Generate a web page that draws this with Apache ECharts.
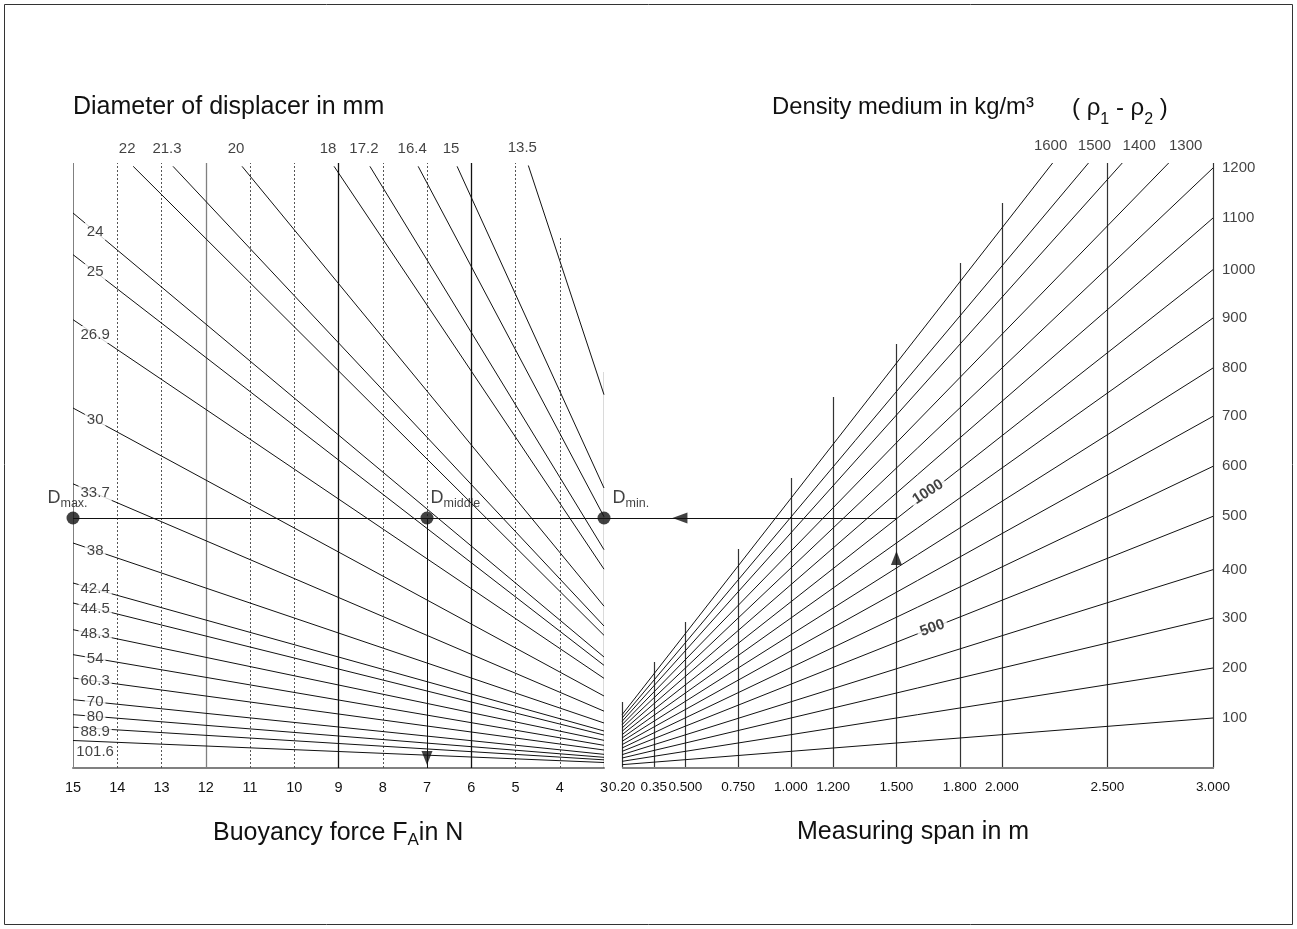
<!DOCTYPE html>
<html><head><meta charset="utf-8">
<script src="https://cdn.jsdelivr.net/npm/echarts@6/dist/echarts.min.js"></script>
<style>html,body{margin:0;padding:0;background:#fff}#c{width:1297px;height:929px}</style>
</head><body><div id="c"></div>
<script>
// ================= DATA =================
// Left panel: buoyancy force F_A [N] on x, (rho1-rho2)*span [kg/m^2] on y
const forceTicks     = [15, 14, 13, 12, 11, 10, 9, 8, 7, 6, 5, 4, 3];
const forceSolid     = [15, 12, 9, 6, 3];
const forceGridTopP  = [3640, 3630, 3630, 3630, 3630, 3630, 3630, 3630, 3630, 3630, 3630, 3186, 2376];

// diameter lines that start at the top edge
const topDiameters = ['22', '21.3', '20', '18', '17.2', '16.4', '15', '13.5'];
const topStartF    = [13.64, 12.74, 11.18, 9.10, 8.29, 7.20, 6.32, 4.71];
const topStartP    = [3610, 3610, 3610, 3610, 3610, 3610, 3610, 3615];
const topEndP      = [796, 852, 971, 1193, 1310, 1508, 1680, 2240];   // at F = 3 N

// diameter lines that start on the 15 N edge
const sideDiameters = ['24', '25', '26.9', '30', '33.7', '38', '42.4', '44.5', '48.3', '54', '60.3', '70', '80', '88.9', '101.6'];
const sideStartP    = [3330, 3080, 2690, 2160, 1705, 1350, 1110, 990, 830, 680, 540, 410, 320, 245, 165]; // at F = 15 N
const sideEndP      = [666, 616, 538, 432, 341, 270, 222, 198, 166, 136, 108, 82, 64, 49, 33];           // at F = 3 N

// Right panel: measuring span [m] on x
const spanTicks      = [0.2, 0.35, 0.5, 0.75, 1.0, 1.2, 1.5, 1.8, 2.0, 2.5, 3.0];
const spanTickLabels = ['0.20', '0.35', '0.500', '0.750', '1.000', '1.200', '1.500', '1.800', '2.000', '2.500', '3.000'];
const spanGridTopP   = [396, 636, 876, 1314, 1740, 2226, 2544, 3030, 3390, 3630, 3630];

const densities      = [100, 200, 300, 400, 500, 600, 700, 800, 900, 1000, 1100, 1200, 1300, 1400, 1500, 1600];
const densityStartL  = 0.2;
const densityStartP  = [20, 40, 60, 80, 100, 120, 140, 160, 180, 200, 220, 240, 260, 280, 300, 320];
const densityEndL    = [3, 3, 3, 3, 3, 3, 3, 3, 3, 3, 3, 3, 2.79, 2.57, 2.41, 2.24];
const densityEndP    = [300, 600, 900, 1190, 1510, 1810, 2110, 2400, 2700, 2990, 3300, 3600, 3630, 3630, 3630, 3630];

// worked example: 1000 kg/m^3 x 1.5 m
const exampleP      = 1500;
const exampleSpan   = 1.5;
const exampleStartL = 0.1;
const dPoints       = [['max.', 15], ['middle', 7], ['min.', 3]];
const arrowLeft     = [0.474, 1500];
const arrowUp       = [1.5, 1260];
const arrowDown     = [7, 60];
const lineNumbers   = [['1000', 1.65, 1656], ['500', 1.67, 840]];

const yMax = 3630;

// ================= LAYOUT / STYLE =================
const FONT = 'Liberation Sans, Arial, Helvetica, sans-serif';
const INK = '#111';
const topLabelDx = [17, 17, 6, -2];   // label x shifts for 1300..1600
const sideLabelDy = [0, 0, 0, 0, 0, 0, 0, 0, 0, 0, 0, 0, 0, 3, 10];
const dLabelPos = [[-19, -25], [10, -25], [15, -25]];

// ================= BUILD =================
const chart = echarts.init(document.getElementById('c'), null, {renderer: 'canvas'});

const forceGrid = forceTicks.map((f, i) => {
  const solid = forceSolid.includes(f);
  const gray = (f === 15 || f === 12);
  return {
    coords: [[f, 0], [f, forceGridTopP[i]]],
    lineStyle: solid
      ? {color: gray ? '#808080' : '#111', width: f === 15 ? 2 : 1.3, type: 'solid', opacity: 1}
      : {color: '#555', width: 1, type: [2, 2], opacity: 1}
  };
});

const leftLines = [];
topDiameters.forEach((d, i) => leftLines.push({coords: [[topStartF[i], topStartP[i]], [3, topEndP[i]]]}));
sideDiameters.forEach((d, i) => leftLines.push({coords: [[15, sideStartP[i]], [3, sideEndP[i]]]}));

const topLabelData = topDiameters.map((d, i) => ({value: [topStartF[i], topStartP[i]], name: d}));
const sideLabelData = sideDiameters.map((d, i) => {
  const f = 14.5;
  const p = sideStartP[i] + (sideEndP[i] - sideStartP[i]) * (15 - f) / 12;
  return {value: [f, p], name: d, label: {offset: [0, sideLabelDy[i]]}};
});

const spanGrid = spanTicks.map((s, i) => ({coords: [[s, 0], [s, spanGridTopP[i]]]}));
const densityLines = densities.map((r, i) => ({coords: [[densityStartL, densityStartP[i]], [densityEndL[i], densityEndP[i]]]}));
const rightLabelData = [];
const topDensityData = [];
densities.forEach((r, i) => {
  if (densityEndL[i] === 3) {
    rightLabelData.push({value: [densityEndL[i], densityEndP[i]], name: String(r)});
  } else {
    topDensityData.push({value: [densityEndL[i], densityEndP[i]], name: String(r),
                         label: {offset: [topLabelDx[topDensityData.length], 0]}});
  }
});

const plain = (size, extra) => Object.assign({fontSize: size, fontWeight: 'normal', fontFamily: FONT, color: INK}, extra || {});
const lineStyleBlack = {color: '#111', width: 1, opacity: 1};

const option = {
  animation: false,
  backgroundColor: '#fff',
  textStyle: {fontFamily: FONT},
  title: [
    {text: 'Diameter of displacer in mm', left: 73, top: 95, padding: 0, textStyle: plain(25)},
    {text: 'Density medium in kg/m³', left: 772, top: 95, padding: 0, textStyle: plain(23.8)},
    {text: '{m|( }{m|ρ}{s|1}{m| - }{m|ρ}{s|2}{m| )}', left: 1072, top: 88, padding: 0,
     textStyle: {fontWeight: 'normal', rich: {
       m: plain(24, {lineHeight: 40}),
       s: plain(16, {lineHeight: 16, verticalAlign: 'bottom'})
     }}},
    {text: '{m|Buoyancy force F}{s|A}{m|in N}', left: 213, top: 817, padding: 0,
     textStyle: {fontWeight: 'normal', rich: {
       m: plain(25, {lineHeight: 32}),
       s: plain(17, {lineHeight: 17, verticalAlign: 'bottom'})
     }}},
    {text: 'Measuring span in m', left: 797, top: 820, padding: 0, textStyle: plain(25)}
  ],
  grid: [
    {left: 73, width: 531, top: 163, height: 605},
    {left: 601, width: 612, top: 163, height: 605}
  ],
  xAxis: [
    {gridIndex: 0, type: 'value', min: 3, max: 15, interval: 1, inverse: true,
     splitLine: {show: false}, axisTick: {show: false},
     axisLine: {show: true, lineStyle: {color: '#808080', width: 2}},
     axisLabel: plain(14.5, {margin: 12})},
    {gridIndex: 1, type: 'value', min: 0.1, max: 3.0,
     splitLine: {show: false}, axisTick: {show: false}, axisLine: {show: false},
     axisLabel: plain(13.5, {margin: 12,
       customValues: spanTicks,
       formatter: v => {
         let best = 0;
         spanTicks.forEach((s, i) => { if (Math.abs(s - v) < Math.abs(spanTicks[best] - v)) best = i; });
         return Math.abs(spanTicks[best] - v) < 1e-6 ? spanTickLabels[best] : '';
       }})}
  ],
  yAxis: [
    {gridIndex: 0, type: 'value', min: 0, max: yMax, show: false},
    {gridIndex: 1, type: 'value', min: 0, max: yMax, show: false}
  ],
  graphic: [
    {type: 'rect', shape: {x: 4.5, y: 4.5, width: 1288, height: 920}, silent: true,
     style: {fill: 'none', stroke: '#333', lineWidth: 1}, z: 100}
  ],
  series: [
    {type: 'lines', coordinateSystem: 'cartesian2d', xAxisIndex: 0, yAxisIndex: 0, silent: true,
     data: forceGrid, z: 1},
    {type: 'lines', coordinateSystem: 'cartesian2d', xAxisIndex: 0, yAxisIndex: 0, silent: true,
     lineStyle: lineStyleBlack, data: leftLines, z: 2},
    {type: 'scatter', xAxisIndex: 0, yAxisIndex: 0, symbolSize: 0, silent: true, z: 5,
     data: topLabelData,
     label: plain(15, {show: true, position: 'top', distance: 10, offset: [-6, 0], formatter: p => p.name})},
    {type: 'scatter', xAxisIndex: 0, yAxisIndex: 0, symbolSize: 0, silent: true, z: 5,
     data: sideLabelData,
     label: plain(15, {show: true, position: 'inside', formatter: p => p.name,
             backgroundColor: '#fff', padding: [1, 2]})},
    {type: 'lines', coordinateSystem: 'cartesian2d', xAxisIndex: 1, yAxisIndex: 1, silent: true, z: 3,
     lineStyle: {color: '#808080', width: 2, opacity: 1},
     data: [{coords: [[spanTicks[0], 0], [spanTicks[spanTicks.length - 1] + 0.02, 0]]}]},
    {type: 'lines', coordinateSystem: 'cartesian2d', xAxisIndex: 1, yAxisIndex: 1, silent: true, z: 1,
     lineStyle: {color: '#333', width: 1.2, opacity: 1}, data: spanGrid},
    {type: 'lines', coordinateSystem: 'cartesian2d', xAxisIndex: 1, yAxisIndex: 1, silent: true, z: 2,
     lineStyle: lineStyleBlack, data: densityLines},
    {type: 'scatter', xAxisIndex: 1, yAxisIndex: 1, symbolSize: 0, silent: true, z: 5,
     data: rightLabelData,
     label: plain(15, {show: true, position: 'right', distance: 9, formatter: p => p.name})},
    {type: 'scatter', xAxisIndex: 1, yAxisIndex: 1, symbolSize: 0, silent: true, z: 5,
     data: topDensityData,
     label: plain(15, {show: true, position: 'top', distance: 10, formatter: p => p.name})},
    {type: 'scatter', xAxisIndex: 1, yAxisIndex: 1, symbolSize: 0, silent: true, z: 6,
     data: lineNumbers.map(n => ({value: [n[1], n[2]], name: n[0], label: {rotate: n[0] === '1000' ? 33 : 20}})),
     label: plain(15, {show: true, position: 'inside', formatter: p => p.name, fontWeight: 'bold',
             backgroundColor: '#fff', padding: [0, 3]})},
    {type: 'lines', coordinateSystem: 'cartesian2d', xAxisIndex: 0, yAxisIndex: 0, silent: true, z: 4,
     lineStyle: lineStyleBlack,
     data: [{coords: [[dPoints[0][1], exampleP], [dPoints[2][1], exampleP]]},
            {coords: [[dPoints[1][1], exampleP], [dPoints[1][1], 0]]}]},
    {type: 'lines', coordinateSystem: 'cartesian2d', xAxisIndex: 1, yAxisIndex: 1, silent: true, z: 4,
     lineStyle: lineStyleBlack,
     data: [{coords: [[exampleStartL, exampleP], [exampleSpan, exampleP]]}]},
    {type: 'scatter', xAxisIndex: 0, yAxisIndex: 0, symbol: 'circle', symbolSize: 13, silent: true, z: 7,
     itemStyle: {color: '#111'},
     data: dPoints.map((d, i) => ({value: [d[1], exampleP], name: d[0], label: {position: dLabelPos[i]}})),
     label: {show: true, formatter: p => '{d|D}{s|' + p.name + '}',
       rich: {d: plain(18, {lineHeight: 24}),
              s: plain(12.5, {lineHeight: 12, verticalAlign: 'bottom'})}}},
    {type: 'scatter', xAxisIndex: 0, yAxisIndex: 0, symbol: 'triangle', symbolSize: [11, 14], symbolRotate: 180,
     silent: true, z: 7, itemStyle: {color: '#111'}, data: [arrowDown]},
    {type: 'scatter', xAxisIndex: 1, yAxisIndex: 1, symbol: 'triangle', silent: true, z: 7, itemStyle: {color: '#111'},
     data: [{value: arrowLeft, symbolSize: [11, 15], symbolRotate: 90},
            {value: arrowUp, symbolSize: [11, 14], symbolRotate: 0}]}
  ]
};
chart.setOption(option);
</script>
</body></html>
